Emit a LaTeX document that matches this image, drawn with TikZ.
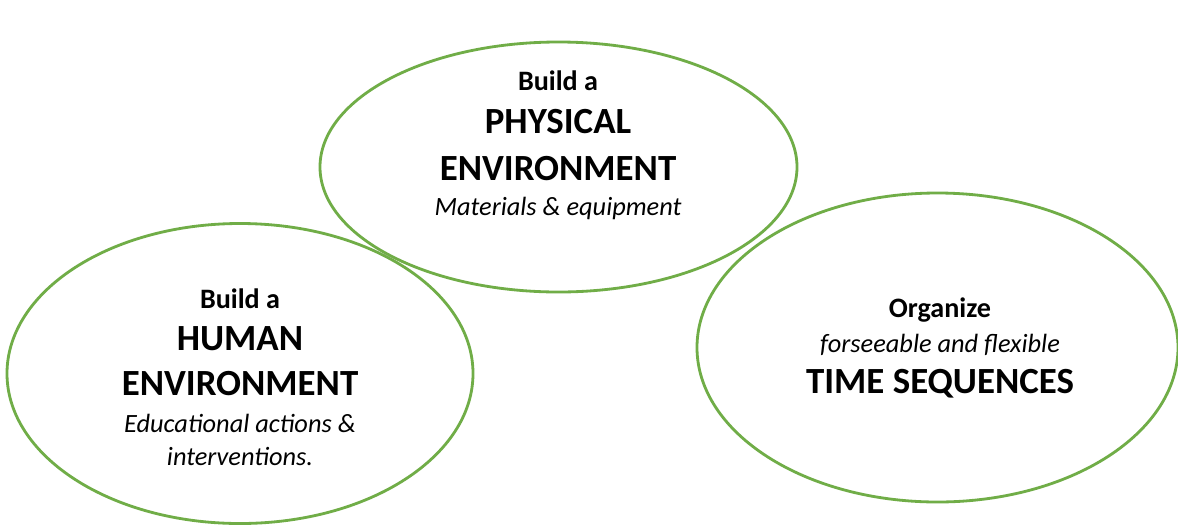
\documentclass[tikz,border=0pt]{standalone}
\usepackage{fontspec}
\setmainfont{Carlito}
\usepackage{tikz}
\usetikzlibrary{shapes.geometric, positioning}
\definecolor{leaf}{HTML}{70AD47}

\begin{document}
\begin{tikzpicture}[
  ring/.style={draw=leaf, line width=1.6pt, ellipse, inner sep=0pt},
  leadtext/.style={font=\fontsize{16}{19}\selectfont\bfseries, inner sep=0pt, anchor=base},
  headtext/.style={font=\fontsize{21}{25}\selectfont\bfseries, inner sep=0pt, anchor=base},
  notetext/.style={font=\fontsize{15}{18}\selectfont\itshape, inner sep=0pt, anchor=base},
]
\fill[white] (0,0) rectangle (23.56,-10.5);
\useasboundingbox (0,0) rectangle (23.56,-10.5);

% Rings
\node[ring, minimum width=9.54cm, minimum height=5cm] (physical) at (11.17,-3.34) {};
\node[ring, minimum width=9.32cm, minimum height=6cm] (human) at (4.8,-7.47) {};
\node[ring, minimum width=9.62cm, minimum height=6.18cm] (time) at (18.75,-6.95) {};

% Physical environment
\node[leadtext] (phys-lead) at (11.16,-1.8) {Build a};
\node[headtext, below=0.86cm of phys-lead.base, anchor=base] (phys-head) {PHYSICAL};
\node[headtext, below=0.94cm of phys-head.base, anchor=base] (phys-env) {ENVIRONMENT};
\node[notetext, below=0.7cm of phys-env.base, anchor=base] (phys-note) {Materials \& equipment};

% Human environment
\node[leadtext] (hum-lead) at (4.8,-6.16) {Build a};
\node[headtext, below=0.84cm of hum-lead.base, anchor=base] (hum-head) {HUMAN};
\node[headtext, below=0.9cm of hum-head.base, anchor=base] (hum-env) {ENVIRONMENT};
\node[notetext, below=0.74cm of hum-env.base, anchor=base] (hum-note) {Educational actions \&};
\node[notetext, below=0.66cm of hum-note.base, anchor=base] (hum-note2) {interventions.};

% Time sequences
\node[leadtext] (time-lead) at (18.8,-6.34) {Organize};
\node[notetext, below=0.7cm of time-lead.base, anchor=base] (time-note) {forseeable and flexible};
\node[headtext, below=0.82cm of time-note.base, anchor=base] (time-head) {TIME SEQUENCES};

\end{tikzpicture}
\end{document}
